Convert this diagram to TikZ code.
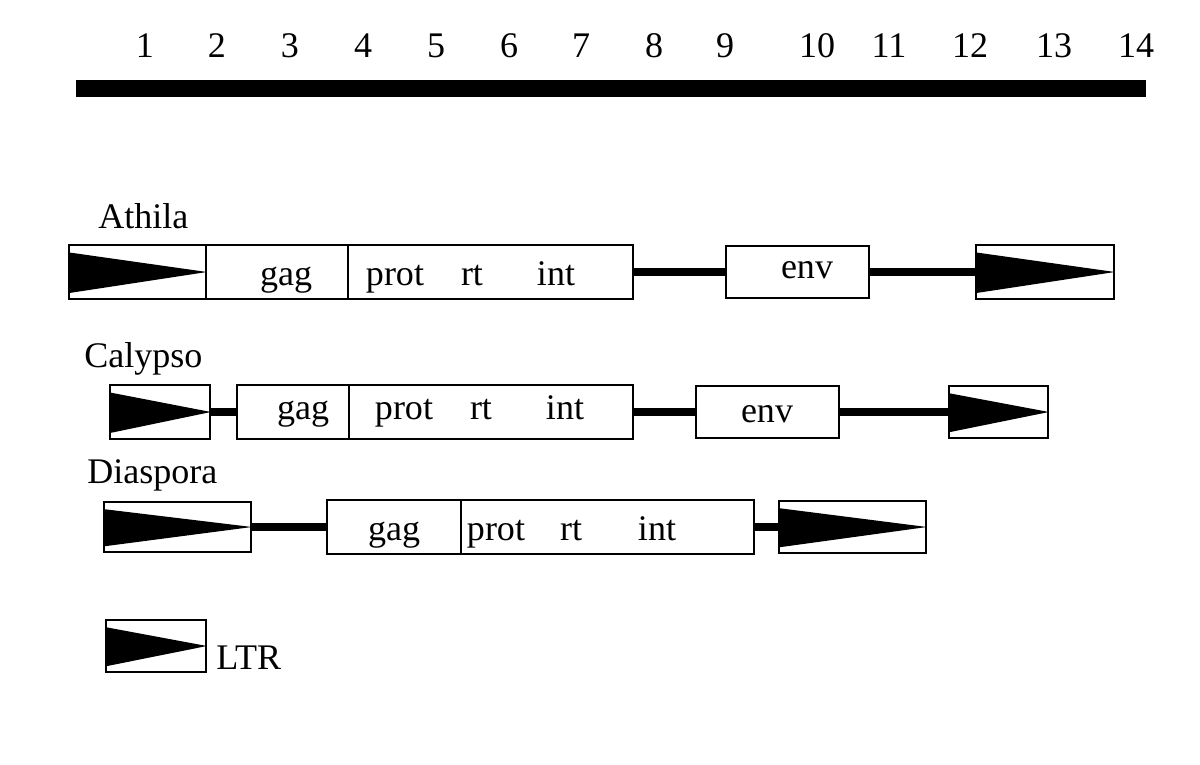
\documentclass[tikz,border=0pt]{standalone}
\usepackage{fontspec}
\setmainfont{Liberation Serif}
\usepackage{tikz}

\begin{document}
\begin{tikzpicture}[x=0.02cm, y=-0.02cm, font=\fontsize{20.5}{24}\selectfont]
        \tikzset{
            seg/.style={draw, line width=1.1pt, inner sep=0pt, minimum height=1.07cm, anchor=west},
            link/.style={line width=5pt},
            lbl/.style={anchor=base, inner sep=0pt}
        }
        \useasboundingbox (0,0) rectangle (1200,764);

        % Scale in kb.
        \fill (76,80) rectangle (1146,97);
        \foreach \x/\k in {145/1, 217/2, 290/3, 363/4, 436/5, 509/6, 581/7, 654/8, 725/9, 817/10, 889/11, 970/12, 1054/13, 1136/14}
            \node[lbl] (k\k) at (\x,57) {\k};

        % Athila
        \draw (98,228) node[lbl, anchor=base west] (athila) {Athila};
        \draw (68,272) node[seg, minimum width=2.74cm] (a1) {};
        \draw (205,272) node[seg, minimum width=2.84cm] (a2) {};
        \draw (347,272) node[seg, minimum width=5.70cm] (a3) {};
        \draw (725,272) node[seg, minimum width=2.86cm, minimum height=1.04cm] (a4) {};
        \draw (975,272) node[seg, minimum width=2.76cm] (a5) {};
        \draw (286,285) node[lbl] (a2t) {gag};
        \draw (395,285) node[lbl] (a3t) {prot};
        \draw (472,285) node[lbl] (a3r) {rt};
        \draw (556,285) node[lbl] (a3i) {int};
        \draw (807,278) node[lbl] (a4t) {env};
        \draw[link] (a3) -- (a4);
        \draw[link] (a4) -- (a5);

        % Calypso
        \draw (84,367) node[lbl, anchor=base west] (calypso) {Calypso};
        \draw (109,412) node[seg, minimum width=2.00cm] (c1) {};
        \draw (236,412) node[seg, minimum width=2.24cm] (c2) {};
        \draw (348,412) node[seg, minimum width=5.68cm] (c3) {};
        \draw (695,412) node[seg, minimum width=2.86cm, minimum height=1.04cm] (c4) {};
        \draw (948,412) node[seg, minimum width=1.98cm, minimum height=1.04cm] (c5) {};
        \draw (303,419) node[lbl] (c2t) {gag};
        \draw (404,419) node[lbl] (c3t) {prot};
        \draw (481,419) node[lbl] (c3r) {rt};
        \draw (565,419) node[lbl] (c3i) {int};
        \draw (767,422) node[lbl] (c4t) {env};
        \draw[link] (c1) -- (c2);
        \draw[link] (c3) -- (c4);
        \draw[link] (c4) -- (c5);

        % Diaspora
        \draw (87,483) node[lbl, anchor=base west] (diaspora) {Diaspora};
        \draw (103,527) node[seg, minimum width=2.94cm, minimum height=1.0cm] (d1) {};
        \draw (326,527) node[seg, minimum width=2.68cm] (d2) {};
        \draw (460,527) node[seg, minimum width=5.86cm] (d3) {};
        \draw (778,527) node[seg, minimum width=2.94cm, minimum height=1.04cm] (d4) {};
        \draw (394,540) node[lbl] (d2t) {gag};
        \draw (496,540) node[lbl] (d3t) {prot};
        \draw (571,540) node[lbl] (d3r) {rt};
        \draw (657,540) node[lbl] (d3i) {int};
        \draw[link] (d1) -- (d2);
        \draw[link] (d3) -- (d4);

        % Legend
        \draw (105,646) node[seg, minimum width=2.00cm, minimum height=1.04cm] (l1) {};
        \draw (216,669) node[lbl, anchor=base west] (ltr) {LTR};

        % LTR arrows.
        \foreach \n in {a1, a5, c1, c5, d1, d4, l1}
            \fill ([yshift=-0.16cm]\n.north west) -- ([yshift=0.13cm]\n.south west) -- (\n.east) -- cycle;
    \end{tikzpicture}
\end{document}
